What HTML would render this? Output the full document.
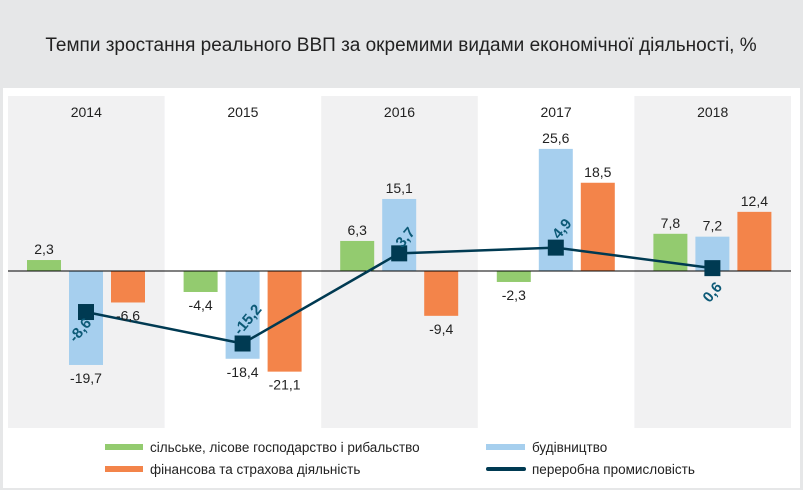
<!DOCTYPE html>
<html><head><meta charset="utf-8"><style>
body{margin:0;width:803px;height:490px;background:#e6e7e8;font-family:"Liberation Sans",sans-serif;overflow:hidden}
</style></head><body>
<svg width="803" height="490" style="position:absolute;left:0;top:0">
<rect x="0" y="0" width="803" height="490" fill="#e6e7e8"/>
<text x="401" y="51" text-anchor="middle" font-size="19" fill="#222">Темпи зростання реального ВВП за окремими видами економічної діяльності, %</text>
<rect x="3" y="88" width="797" height="400" fill="#fff"/>
<g id="bands"></g><g id="bars"></g>
<line x1="8" y1="271" x2="791" y2="271" stroke="#000" stroke-width="1"/>
<g id="line"></g><g id="labels"></g>
<g font-size="13.5" fill="#222">
<rect x="105" y="444" width="38" height="6" fill="#93cb6f"/>
<text x="150" y="452">сільське, лісове господарство і рибальство</text>
<rect x="486" y="444" width="39" height="6" fill="#a6cfee"/>
<text x="532" y="452">будівництво</text>
<rect x="105" y="466" width="38" height="6" fill="#f3844a"/>
<text x="150" y="474">фінансова та страхова діяльність</text>
<line x1="488" y1="469" x2="524" y2="469" stroke="#003a52" stroke-width="4" stroke-linecap="round"/>
<text x="532" y="474">переробна промисловість</text>
</g>
</svg>
<script>
const years=["2014","2015","2016","2017","2018"];
const agri=[2.3,-4.4,6.3,-2.3,7.8];
const constr=[-19.7,-18.4,15.1,25.6,7.2];
const fin=[-6.6,-21.1,-9.4,18.5,12.4];
const manuf=[-8.6,-15.2,3.7,4.9,0.6];
const NS="http://www.w3.org/2000/svg";
const x0=8,bw=156.6,zeroY=271,k=4.77;
const y=v=>zeroY-v*k;
const fmt=v=>String(v).replace('.',',');
function mk(tag,attrs,parent){const e=document.createElementNS(NS,tag);for(const a in attrs)e.setAttribute(a,attrs[a]);document.getElementById(parent).appendChild(e);return e;}
const series=[{d:agri,off:19,c:"#93cb6f",n:"agriculture"},{d:constr,off:61,c:"#a6cfee",n:"construction"},{d:fin,off:103,c:"#f3844a",n:"finance"}];
years.forEach((yr,i)=>{
  const bx=x0+i*bw;
  if(i%2==0){const r=mk("rect",{x:bx,y:96,width:bw,height:332,fill:"#f1f1f2"},"bands");
  
  }
  const t=mk("text",{x:bx+bw/2,y:117,"text-anchor":"middle","font-size":"14",fill:"#222"},"labels");t.textContent=yr;
  
  
  series.forEach(s=>{
    const v=s.d[i],top=Math.min(y(v),zeroY),h=Math.abs(v)*k;
    const r=mk("rect",{x:bx+s.off,y:top,width:34,height:h,fill:s.c},"bars");
    
    
    const ty=v>=0?y(v)-6:y(v)+18;
    const l=mk("text",{x:bx+s.off+17,y:ty,"text-anchor":"middle","font-size":"14",fill:"#222"},"labels");l.textContent=fmt(v);
    
    
  });
});
const pts=manuf.map((v,i)=>[x0+i*bw+78,y(v)]);
const pl=mk("polyline",{points:pts.map(p=>p.join(",")).join(" "),fill:"none",stroke:"#003a52","stroke-width":"2.5"},"line");


const lo=[[-6,18],[5,-24],[6,-16],[6,-19],[0,24]];
pts.forEach((p,i)=>{
  const r=mk("rect",{x:p[0]-8,y:p[1]-8,width:16,height:16,fill:"#003a52"},"line");
  
  
  const tx=p[0]+lo[i][0],ty=p[1]+lo[i][1];
  const t=mk("text",{x:tx,y:ty+5,"text-anchor":"middle","font-size":"15","font-weight":"bold",fill:"#0d5a77",transform:`rotate(-50 ${tx} ${ty})`},"labels");
  t.textContent=fmt(manuf[i]);
  
  
});
</script>
</body></html>
